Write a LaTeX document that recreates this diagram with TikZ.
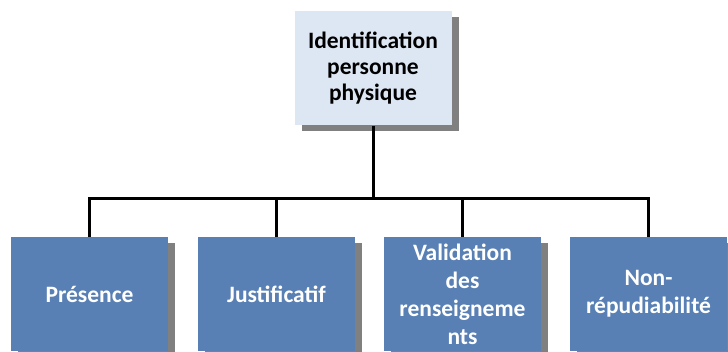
\documentclass[tikz,border=0pt]{standalone}
\usepackage{fontspec}
\setmainfont{Carlito}
\usetikzlibrary{shadows}
\definecolor{cTop}{HTML}{DDE6F3}
\definecolor{cSub}{HTML}{5880B4}
\definecolor{cShd}{HTML}{808080}
\tikzset{
  unitbox/.style={rectangle, minimum width=157pt, minimum height=114pt, inner sep=2pt,
    align=center, font=\fontsize{23.5}{28}\selectfont\bfseries,
    drop shadow={shadow xshift=7pt, shadow yshift=-6pt, fill=cShd, opacity=1}},
  topbox/.style={unitbox, fill=cTop, text=black, font=\fontsize{23.5}{26}\selectfont\bfseries},
  subbox/.style={unitbox, fill=cSub, text=white},
  link/.style={line width=3pt, black},
}

\begin{document}
\begin{tikzpicture}[x=1pt,y=-1pt]
\useasboundingbox (0,0) rectangle (728,352);
% boxes
\node[topbox] (top) at (373,68.5) {Identification\\personne\\physique};
\node[subbox] (pres) at (89.5,294) {Présence};
\node[subbox] (just) at (276.5,294) {Justificatif};
\node[subbox] (valid) at (462.5,294) {Validation\\des\\renseigneme\\nts};
\node[subbox] (nonr) at (648.5,294) {Non-\\répudiabilité};
% tree links
\coordinate (jn) at ([yshift=-73pt]top.south);
\draw[link] (top.south) -- (jn);
\draw[link] (pres.north) |- (jn) -| (nonr.north);
\draw[link] (just.north) -- (just.north |- jn);
\draw[link] (valid.north) -- (valid.north |- jn);
\end{tikzpicture}
\end{document}
